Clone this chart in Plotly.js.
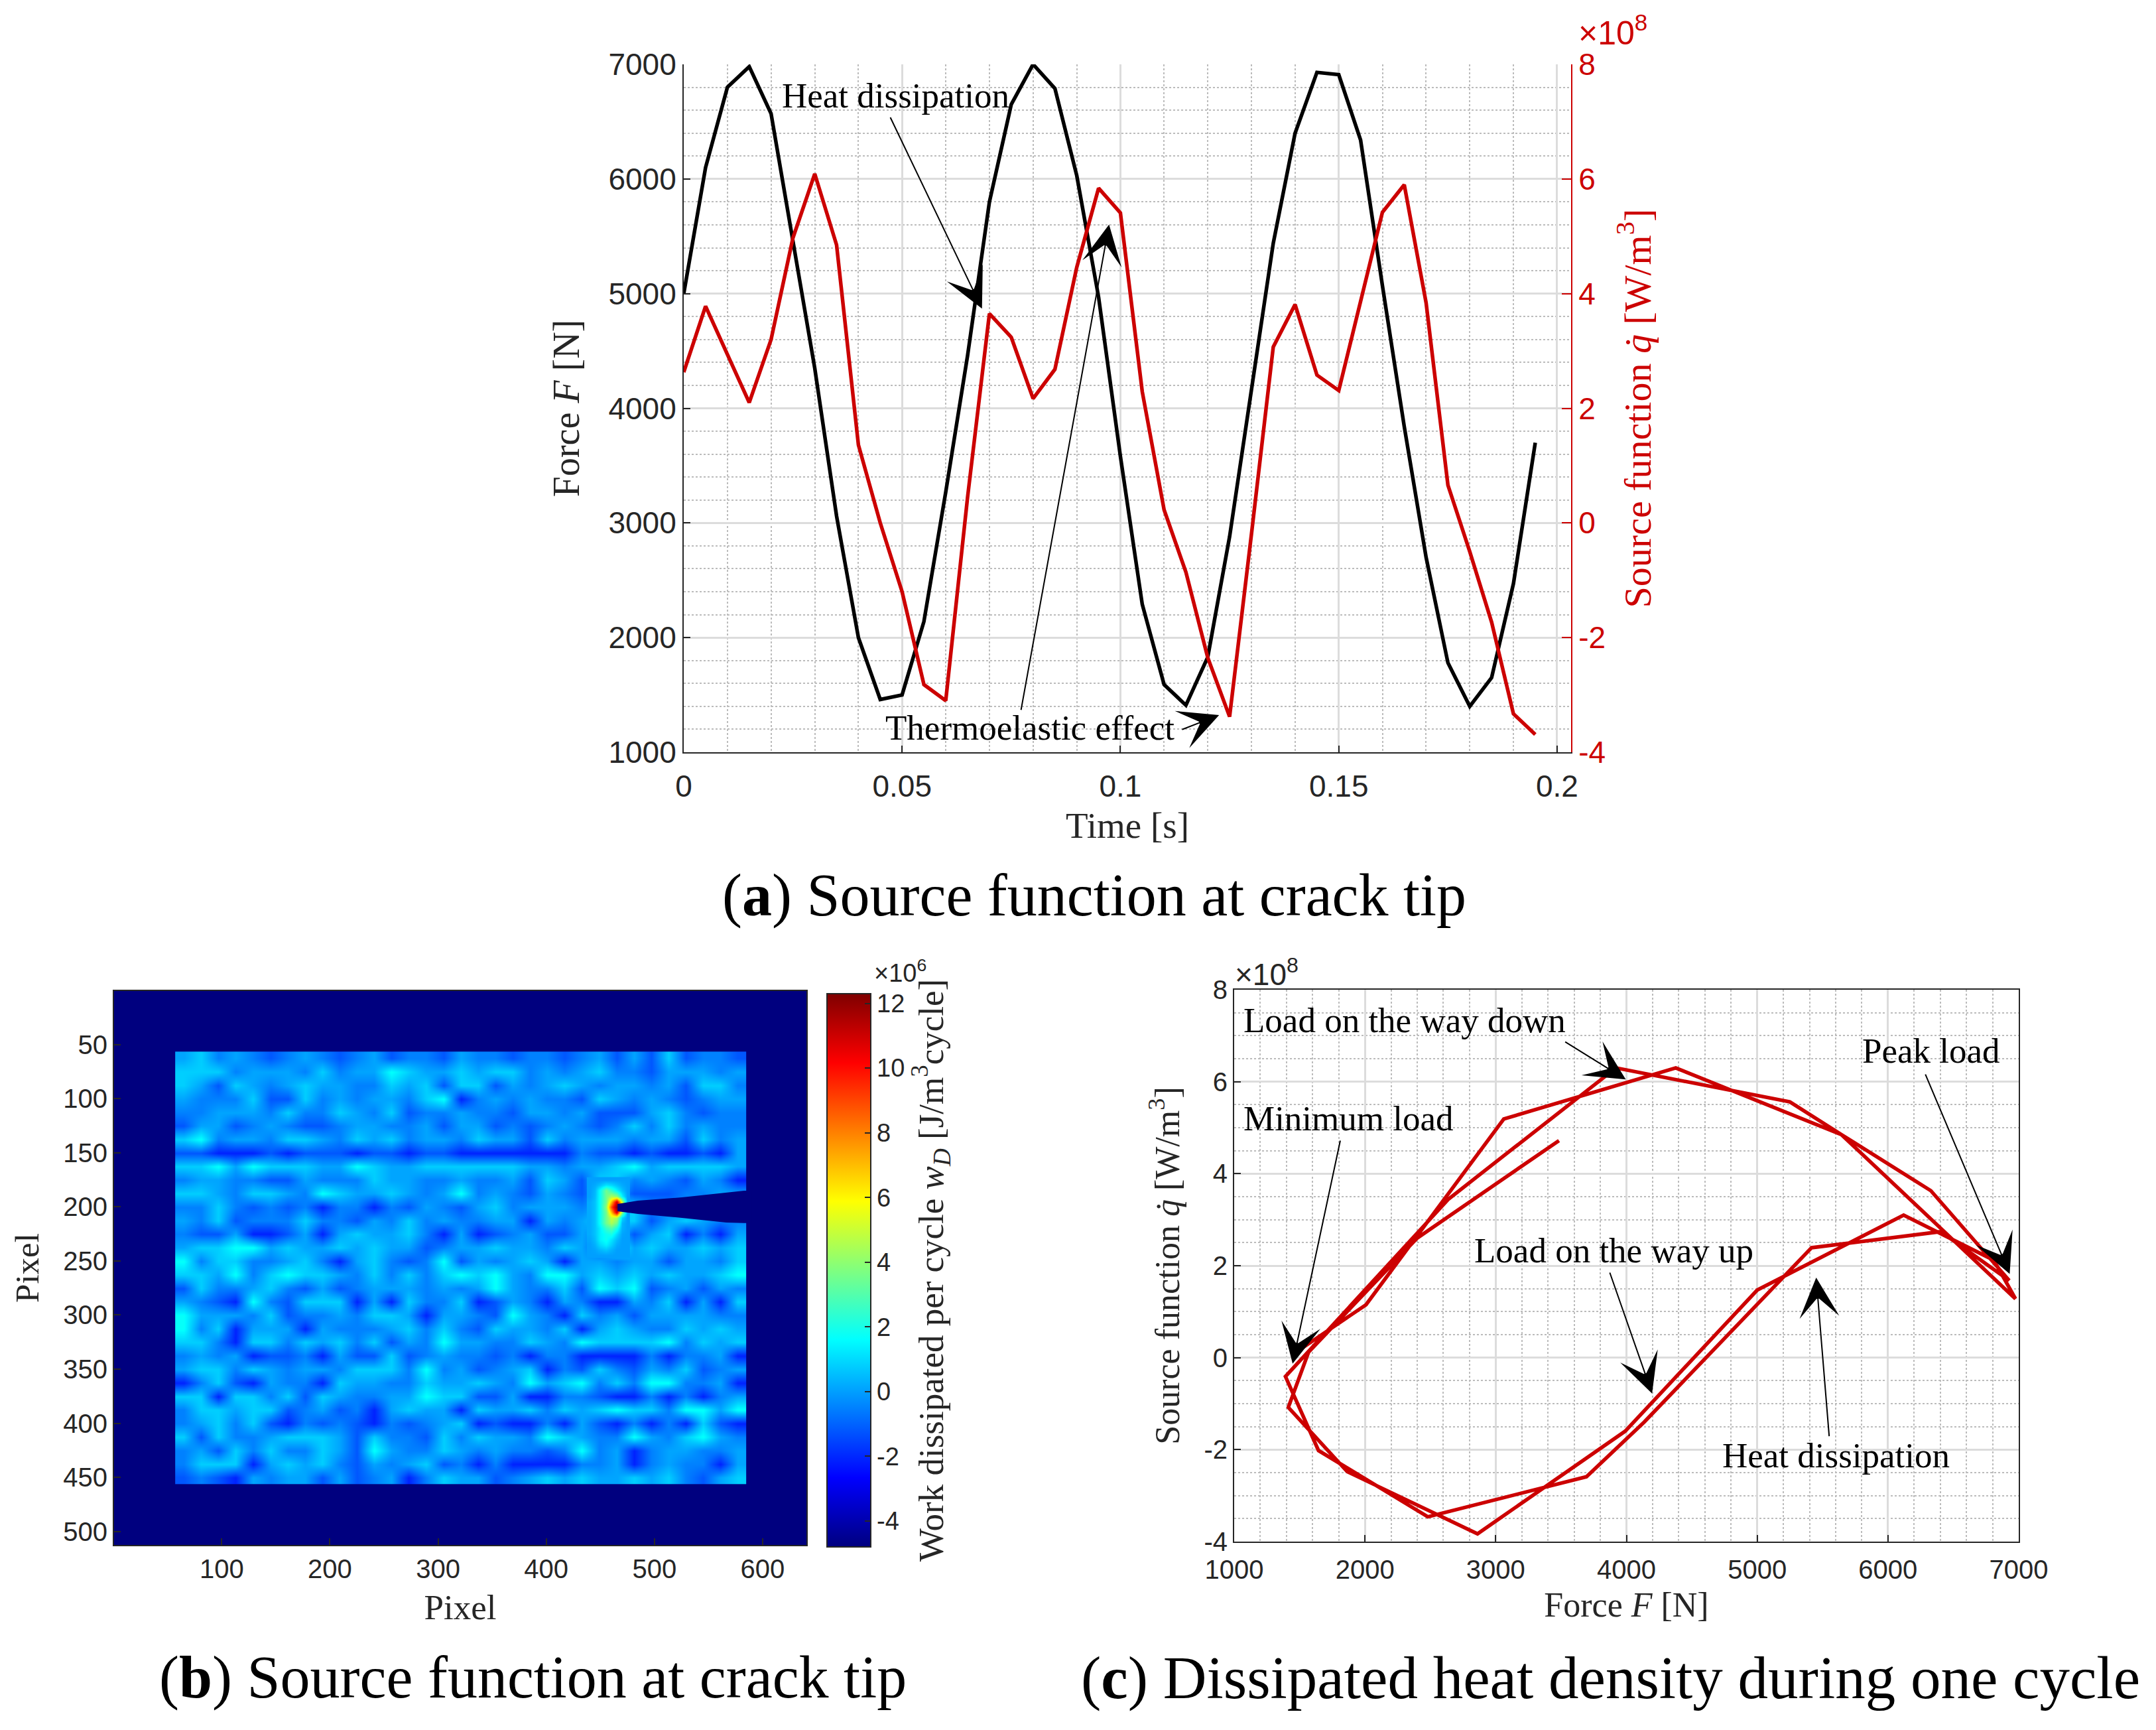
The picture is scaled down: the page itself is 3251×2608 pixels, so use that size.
<!DOCTYPE html>
<html>
<head>
<meta charset="utf-8">
<script src="https://cdn.plot.ly/plotly-3.0.1.min.js"></script>
<style>html,body{margin:0;padding:0;background:#fff}</style>
</head>
<body>
<div id="chart"></div>
<script>
// (a) time series
const timeS = [0,0.005,0.01,0.015,0.02,0.025,0.03,0.035,0.04,0.045,0.05,0.055,0.06,0.065,0.07,0.075,0.08,0.085,0.09,0.095,
  0.1,0.105,0.11,0.115,0.12,0.125,0.13,0.135,0.14,0.145,0.15,0.155,0.16,0.165,0.17,0.175,0.18,0.185,0.19,0.195];
const forceN = [5000,6100,6800,6980,6570,5450,4350,3060,2000,1460,1500,2140,3270,4460,5800,6650,7000,6790,6030,4970,
  3580,2290,1590,1410,1830,2880,4150,5440,6400,6930,6910,6340,5070,3840,2700,1780,1400,1650,2470,3700];
const sourceQ = [2.63,3.78,2.94,2.1,3.2,4.97,6.09,4.85,1.36,0,-1.2,-2.82,-3.1,0.45,3.65,3.24,2.17,2.68,4.46,5.84,
  5.41,2.29,0.23,-0.86,-2.35,-3.38,-0.2,3.07,3.81,2.58,2.31,3.84,5.42,5.9,3.84,0.66,-0.5,-1.73,-3.33,-3.69];

// (c) force against source function, vertices in drawing order
const loopF = [3484,2400,1569,1414,1865,2861,3990,5000,6120,6809,6975,5644,5250,3920,2640,1392,1645,2481,3694,4136,5416,6404,6927,6328,5644,4377,3062,2008,1510];
const loopQ = [4.72,2.6,0.12,-1.08,-2.48,-3.83,-1.6,1.47,3.1,2.12,1.28,4.85,5.56,6.3,3.45,-0.41,-2.02,-3.46,-2.59,-1.4,2.39,2.74,1.68,3.63,4.85,6.3,5.19,1.15,0.19];

// (b) work dissipated, estimated per block (1e6 J/m3cycle), blocks of 16 x 12.5 pixels
const fieldZ = [
[.1,.8,-.5,.1,-.5,-1.2,-.5,.1,-.5,-1.2,-.5,.1,-1.2,-.5,-.5,-1.2,.1,-.5,-.5,-1.2,-.5,-.5,-1.2,-.5,.1,-1.2,.1,-1.2,.8,-1.2,-.5,-.5,-1.2],
[.8,.8,.8,-.5,.1,.1,.1,-.5,.8,-.5,.1,.1,1.7,.8,.1,.1,.8,.1,.8,.8,-.5,.1,-.5,.1,.8,-.5,-.5,-1.2,.1,.1,.1,-.5,.1],
[.8,.1,-1.2,.8,.1,-.5,.1,.8,.1,.1,-.5,-.5,.8,.1,.8,-1.2,.8,.8,-1.2,.1,-.5,.1,.8,.1,-.5,.1,.1,-.5,.1,-1.2,.8,.8,-.5],
[.1,-.5,-.5,-.5,.8,-1.2,-1.2,.8,-.5,.1,-.5,.1,.1,-.5,.8,1.7,-2.1,-.5,.1,-.5,.1,-.5,-.5,-1.2,.8,.1,-.5,.1,-.5,-1.2,-.5,.1,.1],
[-.5,-.5,.1,.1,.1,-.5,.8,-.5,-.5,.8,.1,-.5,.8,-1.2,-.5,-.5,.1,-.5,-.5,-1.2,.1,.1,-.5,.1,-1.2,-1.2,-1.2,.1,.8,-.5,-1.2,-.5,-.5],
[-1.2,.1,.1,-1.2,-.5,.1,-.5,-1.2,-1.2,-.5,.1,.1,-.5,-.5,.1,-1.2,.1,.1,-1.2,-.5,-1.2,-.5,.1,-.5,-1.2,-.5,.8,-.5,.8,-.5,.1,-.5,-.5],
[.8,1.7,-.5,.1,.1,-.5,.8,.8,.1,-.5,.8,.1,.8,-.5,.1,.1,-.5,.8,.1,.1,-1.2,.8,-.5,.1,.1,.1,-.5,.1,.1,-1.2,.8,-.5,.1],
[-1.2,-1.2,-2.1,-2.1,-2.1,-1.2,-2.1,-1.2,-1.2,-1.2,-2.1,-1.2,-1.2,-2.1,-1.2,-1.2,-2.1,-2.1,-2.1,-2.1,-2.1,-2.1,-2.1,-.5,-1.2,-1.2,-2.1,-1.2,-2.1,-2.1,-1.2,-2.1,.1],
[.8,.8,1.7,.1,1.7,.8,.8,.8,.1,.1,1.7,.8,.1,.1,.8,.8,.8,.8,.8,.8,.1,.1,-.5,.1,.1,.8,1.7,.1,.8,.8,.8,.8,.1],
[-.5,.1,.1,-.5,-.5,-1.2,-1.2,.1,-.5,-.5,-.5,.8,.1,.1,-.5,-.5,.1,-.5,-.5,.1,-1.2,.8,.1,-1.2,.8,.8,-.5,.1,-.5,-1.2,.1,-.5,-2.1],
[.8,.8,.1,-.5,.8,.8,.1,-.5,1.7,.8,.1,.1,.8,.1,-.5,.1,1.7,-.5,.1,-.5,-1.2,.1,-.5,-1.2,.1,.1,-1.2,-1.2,-1.2,-.5,-.5,.1,.1],
[-.5,-.5,.8,-.5,-1.2,-.5,-1.2,-.5,-2.1,-.5,-.5,-2.1,-.5,-1.2,.1,-.5,-1.2,.1,.8,-.5,.1,.1,.1,-.5,.1,.8,.8,-.5,-.5,-.5,-.5,-.5,-.5],
[.1,-.5,.8,-1.2,-.5,-.5,-.5,.8,-.5,-.5,-1.2,.1,-.5,.8,-.5,.1,-.5,-.5,.1,.1,-2.1,.1,-.5,.1,.8,.8,.8,-1.2,.1,.8,.1,-.5,-.5],
[-.5,-1.2,-1.2,.1,-2.1,-2.1,-1.2,.1,-2.1,.1,.8,.1,.1,.8,-.5,-2.1,.1,-2.1,-1.2,-.5,.1,-1.2,-1.2,.1,-.5,.8,-1.2,.1,.8,-2.1,-.5,-2.1,.1],
[.1,.8,.8,1.7,1.7,.1,.8,.1,.1,.8,.1,.8,.1,.1,-1.2,-.5,.1,.1,.8,.1,.1,-.5,.8,.1,-1.2,1.7,.1,.8,.1,.1,.8,.1,.8],
[1.7,-.5,.8,.8,-.5,-.5,.1,.8,-.5,-2.1,.1,.8,-.5,-1.2,-.5,1.7,-1.2,.1,-.5,.1,.8,.1,-2.1,.1,.1,-.5,.1,.1,-1.2,.1,.1,-.5,.8],
[.8,.8,.1,1.7,-.5,.8,1.7,.8,.8,.1,-.5,.8,-.5,.8,-.5,.8,1.7,.8,1.7,.1,-.5,1.7,1.7,.1,.8,.1,.8,.1,.8,.1,.1,.8,1.7],
[-1.2,.8,-.5,-.5,.1,.8,-.5,-1.2,.1,-1.2,-.5,.1,.1,.1,-.5,.1,-.5,.1,1.7,.1,-.5,-.5,.8,-1.2,1.7,.8,1.7,-1.2,-.5,.1,-1.2,.1,-.5],
[.1,-.5,-1.2,-2.1,1.7,-.5,-1.2,.8,.8,.8,-2.1,.1,-2.1,.8,-.5,-.5,.8,-2.1,-1.2,.1,-.5,-2.1,.1,-.5,-2.1,-2.1,.1,-.5,.8,-2.1,.1,-2.1,.8],
[1.7,.1,.1,.1,-.5,.8,-1.2,-.5,-.5,.1,-.5,.8,.8,.1,-2.1,.1,.1,-.5,-1.2,1.7,.1,-.5,-2.1,.8,-.5,.1,-1.2,.1,.1,.1,.1,-.5,-.5],
[1.7,-.5,.8,-2.1,.1,.1,.1,-2.1,.1,-.5,-.5,-.5,.1,.8,-.5,.8,-.5,-1.2,.8,.1,.1,-.5,.8,-2.1,.1,.8,.1,-.5,-.5,.8,.1,.8,.1],
[.8,.8,-.5,-2.1,.8,.8,-.5,.8,.1,.8,-.5,.8,-1.2,.1,-.5,1.7,.1,.1,-.5,-.5,.8,.1,-.5,1.7,.8,.8,.8,.8,1.7,-.5,.8,.1,.8],
[-.5,.1,-.5,.1,-2.1,-1.2,-1.2,-.5,-2.1,.1,-1.2,-1.2,.8,-1.2,-.5,.1,-.5,-.5,-1.2,-.5,-2.1,-.5,-.5,-2.1,-2.1,-2.1,-2.1,-.5,-2.1,-.5,-.5,.1,-2.1],
[.1,.8,.8,-.5,.8,.1,-.5,.1,.1,-.5,.8,.8,.8,-.5,1.7,-.5,.1,-1.2,-.5,.1,.8,-2.1,-.5,-1.2,.8,-.5,-1.2,.1,-.5,.8,-1.2,-.5,.1],
[-2.1,-.5,.8,-1.2,-2.1,.1,-.5,-.5,-2.1,.8,.1,.1,-.5,-.5,.8,.1,.1,.8,.1,-.5,1.7,.1,.8,1.7,-.5,.8,-.5,1.7,1.7,-.5,-.5,.1,-2.1],
[.8,.8,-2.1,.8,.8,-.5,.8,-1.2,.8,.1,-.5,-.5,.1,.1,1.7,.8,.8,-1.2,-1.2,.1,-2.1,-2.1,-.5,-.5,-1.2,-2.1,-2.1,-.5,-2.1,-.5,-2.1,-.5,.1],
[-.5,.8,.8,.1,.8,.8,-1.2,-.5,.1,-1.2,-.5,-2.1,.1,.8,.1,.1,-2.1,.8,.1,.1,.8,-.5,.8,.1,.8,1.7,.8,.8,-.5,1.7,1.7,.1,1.7],
[-.5,.1,.8,-.5,.8,-1.2,-2.1,-.5,-1.2,-.5,-1.2,-2.1,-.5,-1.2,-.5,.1,.8,-2.1,-1.2,-2.1,-2.1,-.5,-2.1,.1,-1.2,-2.1,-.5,-2.1,-.5,-2.1,.8,-1.2,-2.1],
[.8,-1.2,.8,-.5,-.5,.1,.8,.8,.8,.1,-1.2,.8,-.5,-.5,-1.2,.8,-.5,.8,.1,.1,-.5,1.7,.8,.1,-.5,-.5,1.7,.1,-.5,.8,1.7,.1,-.5],
[-.5,.1,-1.2,.8,-.5,.8,-.5,-.5,.8,.1,-1.2,1.7,.1,-.5,-.5,.8,.1,-.5,.1,-.5,-.5,-1.2,-.5,1.7,-.5,.1,-2.1,-.5,.1,.1,-.5,-.5,.1],
[-.5,.8,.8,.8,-2.1,.1,.8,.1,.8,-.5,-1.2,.1,-.5,.1,.8,-1.2,-.5,-2.1,-.5,-2.1,-2.1,-2.1,-2.1,-.5,-.5,.1,-2.1,-.5,.1,-.5,-.5,-2.1,.1],
[-1.2,-.5,-1.2,-2.1,.1,-.5,.1,.1,-1.2,.1,-1.2,-.5,.1,-2.1,-.5,.8,.1,.1,-1.2,-.5,.1,.8,.1,.8,.1,.1,.8,.1,.8,-.5,-1.2,.1,.8]
];
// hot spot at the crack tip, 5 pixel blocks
const tipX = [440,445,450,455,460,465,470,475];
const tipY = [175,180,185,190,195,200,205,210,215,220,225,230,235,240,245];
const tipZ = [
[0,0,0,0,0,0,0,0],
[0,.2,.6,1.2,1,.6,.2,0],
[0,.4,1.8,3.5,2.5,1.5,.6,0],
[0,.5,1.8,3.5,4.5,4,1.5,0],
[.2,.6,1.8,3.5,7,11,5,0],
[.2,.6,1.8,4,9,12.3,8,0],
[.2,.6,1.8,3.5,7,11,4,0],
[.2,.6,1.8,3.5,5,4.5,1,0],
[.2,.6,1.8,3.5,4.5,3.5,.4,0],
[.2,.6,1.4,2.5,3,2,.3,0],
[.2,.6,1.4,1.8,2,1,.1,0],
[.1,.5,1.4,1.8,1.2,.5,0,0],
[0,.3,1,1.4,.8,.2,0,0],
[0,.1,.4,.6,.3,0,0,0],
[0,0,0,0,0,0,0,0]
];
// crack outline, in image pixels
const crackX = [465.9,484.7,525.5,566.4,582.8,590,590,582.8,566.4,525.5,484.7,465.9];
const crackY = [197.3,194.2,191.2,187,185,185,215,215,214.5,210.2,206.5,204];
const frameX = [0.5,640.5];
const frameY = [0.5,512.5];
const frameZ = [[-4.8,-4.8],[-4.8,-4.8]];

// tick labels
const timeTicks = [0,0.05,0.1,0.15,0.2];
const timeLabels = ['0','0.05','0.1','0.15','0.2'];
const forceTicks = [1000,2000,3000,4000,5000,6000,7000];
const sourceTicks = [-4,-2,0,2,4,6,8];
const sourceLabels = ['-4','-2','0','2','4','6','8'];
const pixelXTicks = [100,200,300,400,500,600];
const pixelYTicks = [50,100,150,200,250,300,350,400,450,500];
const workTicks = [-4,-2,0,2,4,6,8,10,12];
const workLabels = ['-4','-2','0','2','4','6','8','10','12'];

const W = 3251, H = 2608;
const RED = '#cc0000', INK = '#262626', GRID = '#dcdcdc', DOTS = '#bcbcbc';
const SANS = 'Liberation Sans, Arial, sans-serif';
const SERIF = 'Liberation Serif, Times New Roman, serif';

const domX = (a, b) => [a / W, b / W];
const domY = (top, bottom) => [1 - bottom / H, 1 - top / H];

function gridAxis(opts, minorStep, tickSize) {
    return Object.assign({
        showline: true, linecolor: INK, linewidth: 2,
        ticks: 'inside', ticklen: 10, tickwidth: 2, tickcolor: INK,
        showgrid: true, gridcolor: GRID, gridwidth: 3, zeroline: false,
        tickfont: {family: SANS, size: tickSize, color: INK},
        minor: {tickmode: 'linear', tick0: 0, dtick: minorStep, showgrid: true, gridcolor: DOTS, griddash: 'dot', gridwidth: 2, ticks: ''}
    }, opts);
}

const axisTitle = (text, size, standoff, color) => ({text: text, standoff: standoff, font: {family: SERIF, size: size, color: color || INK}});

// text notes: [text, x, y]
const notesA = [['Heat dissipation', 0.0222, 6727], ['Thermoelastic effect', 0.0459, 1216]];
const notesC = [['Load on the way down', 1060, 7.34], ['Minimum load', 1060, 5.2], ['Peak load', 5792, 6.67], ['Load on the way up', 2826, 2.33], ['Heat dissipation', 4723, -2.13]];
// arrows: [tail x, tail y, tip x, tip y]
const arrowsA = [[0.0472, 6546, 0.0683, 4869], [0.0772, 1360, 0.0974, 5602], [0.1139, 1195, 0.1226, 1324]];
const arrowsC = [[3524, 6.88, 3995, 6.05], [1813, 4.74, 1447, -0.13], [3870, 1.87, 4196, -0.78], [5551, -1.73, 5451, 1.74], [6283, 6.18, 6931, 1.82]];

const annotations = [];
function addNotes(notes, xa, ya, size) {
    notes.forEach(n => annotations.push({text: n[0], x: n[1], y: n[2], xref: xa, yref: ya, xanchor: 'left', yanchor: 'middle', showarrow: false,
        font: {family: SERIF, size: size, color: '#000'}}));
}
function addArrows(arrows, xa, ya) {
    arrows.forEach(a => annotations.push({text: '', x: a[2], y: a[3], ax: a[0], ay: a[1], xref: xa, yref: ya, axref: xa, ayref: ya,
        showarrow: true, arrowhead: 3, arrowsize: 5, arrowwidth: 2, arrowcolor: '#000'}));
}
addNotes(notesA, 'x', 'y', 53);
addNotes(notesC, 'x4', 'y4', 53);
addArrows(arrowsA, 'x', 'y');
addArrows(arrowsC, 'x4', 'y4');

function addPaperText(text, px, py, size, family, color, anchor) {
    annotations.push({text: text, x: px / W, y: 1 - py / H, xref: 'paper', yref: 'paper', xanchor: anchor || 'center', yanchor: 'middle',
        showarrow: false, font: {family: family, size: size, color: color}});
}
addPaperText('×10<sup>8</sup>', 2432, 46, 50, SANS, RED);
addPaperText('×10<sup>6</sup>', 1316, 1464, 38, SANS, INK, 'left');
addPaperText('×10<sup>8</sup>', 1860, 1466, 46, SANS, INK, 'left');
addPaperText('(<b>a</b>) Source function at crack tip', 1650, 1350, 90, SERIF, '#000');
addPaperText('(<b>b</b>) Source function at crack tip', 803, 2529, 90, SERIF, '#000');
addPaperText('(<b>c</b>) Dissipated heat density during one cycle', 2428, 2529, 91, SERIF, '#000');

const jet = [[0, '#00007f'], [0.125, '#0000ff'], [0.375, '#00ffff'], [0.625, '#ffff00'], [0.875, '#ff0000'], [1, '#7f0000']];

const traces = [
    {x: timeS, y: forceN, type: 'scatter', mode: 'lines', xaxis: 'x', yaxis: 'y', line: {color: '#000', width: 5.5}},
    {x: timeS, y: sourceQ, type: 'scatter', mode: 'lines', xaxis: 'x', yaxis: 'y2', line: {color: RED, width: 5.5}},
    {x: frameX, y: frameY, z: frameZ, type: 'heatmap', xaxis: 'x3', yaxis: 'y3', coloraxis: 'coloraxis'},
    {x0: 65, dx: 16, y0: 62.75, dy: 12.5, z: fieldZ, type: 'heatmap', zsmooth: 'best', xaxis: 'x3', yaxis: 'y3', coloraxis: 'coloraxis'},
    {x: tipX, y: tipY, z: tipZ, type: 'heatmap', zsmooth: 'best', xaxis: 'x3', yaxis: 'y3', coloraxis: 'coloraxis'},
    {x: crackX, y: crackY, type: 'scatter', mode: 'lines', fill: 'toself', fillcolor: '#00007f', line: {width: 0, color: '#00007f'}, xaxis: 'x3', yaxis: 'y3'},
    {x: loopF, y: loopQ, type: 'scatter', mode: 'lines', xaxis: 'x4', yaxis: 'y4', line: {color: RED, width: 5.5}}
];

const layout = {
    width: W, height: H, margin: {l: 0, r: 0, t: 0, b: 0}, showlegend: false,
    paper_bgcolor: '#fff', plot_bgcolor: '#fff',
    annotations: annotations,
    xaxis: gridAxis({domain: domX(1031, 2369), anchor: 'y', range: [0, 0.2032], tickmode: 'array', tickvals: timeTicks, ticktext: timeLabels, ticklabelstandoff: 10,
        title: axisTitle('Time [s]', 55, 14)}, 0.01, 46),
    yaxis: gridAxis({domain: domY(97, 1134), anchor: 'x', range: [1000, 7000], tickmode: 'array', tickvals: forceTicks,
        title: axisTitle('Force <i>F</i> [N]', 56, 26)}, 200, 46),
    yaxis2: {overlaying: 'y', side: 'right', anchor: 'x', range: [-4, 8], tickmode: 'array', tickvals: sourceTicks, ticktext: sourceLabels,
        showline: true, linecolor: RED, linewidth: 2, ticks: 'inside', ticklen: 14, tickwidth: 2, tickcolor: RED, showgrid: false, zeroline: false,
        tickfont: {family: SANS, size: 46, color: RED},
        title: axisTitle('Source function <i>q̇</i> [W/m<sup>3</sup>]', 58, 28, RED)},
    xaxis3: {domain: domX(172, 1216), anchor: 'y3', range: [0.5, 640.5], tickmode: 'array', tickvals: pixelXTicks, mirror: true,
        showline: true, linecolor: INK, linewidth: 2, ticks: 'inside', ticklen: 10, tickcolor: INK, tickwidth: 2, showgrid: false, zeroline: false,
        tickfont: {family: SANS, size: 40, color: INK}, title: axisTitle('Pixel', 53, 18)},
    yaxis3: {domain: domY(1494, 2329), anchor: 'x3', range: [512.5, 0.5], tickmode: 'array', tickvals: pixelYTicks, mirror: true,
        showline: true, linecolor: INK, linewidth: 2, ticks: 'inside', ticklen: 10, tickcolor: INK, tickwidth: 2, showgrid: false, zeroline: false,
        tickfont: {family: SANS, size: 40, color: INK}, title: axisTitle('Pixel', 51, 20)},
    xaxis4: gridAxis({domain: domX(1861, 3044), anchor: 'y4', range: [1000, 7000], tickmode: 'array', tickvals: forceTicks, mirror: true, ticklabelstandoff: 6,
        title: axisTitle('Force <i>F</i> [N]', 52, 14)}, 200, 40),
    yaxis4: gridAxis({domain: domY(1492, 2324), anchor: 'x4', range: [-4, 8], tickmode: 'array', tickvals: sourceTicks, ticktext: sourceLabels, mirror: true,
        title: axisTitle('Source function <i>q̇</i> [W/m<sup>3</sup>]', 52, 20)}, 0.5, 40),
    coloraxis: {
        cmin: -4.8, cmax: 12.3, colorscale: jet,
        colorbar: {
            x: 1247 / W, xanchor: 'left', xpad: 0, y: 1 - 2332 / H, yanchor: 'bottom', ypad: 0,
            thickness: 66, thicknessmode: 'pixels', len: 834 / H, lenmode: 'fraction',
            outlinecolor: INK, outlinewidth: 2, ticks: 'inside', ticklen: 10, tickcolor: INK, tickwidth: 2,
            tickmode: 'array', tickvals: workTicks, ticktext: workLabels,
            tickfont: {family: SANS, size: 38, color: INK},
            title: {text: 'Work dissipated per cycle <i>w<sub>D</sub></i> [J/m<sup>3</sup>cycle]', side: 'right', font: {family: SERIF, size: 53, color: INK}}
        }
    }
};

Plotly.newPlot('chart', traces, layout, {staticPlot: true, displayModeBar: false});
</script>
</body>
</html>
